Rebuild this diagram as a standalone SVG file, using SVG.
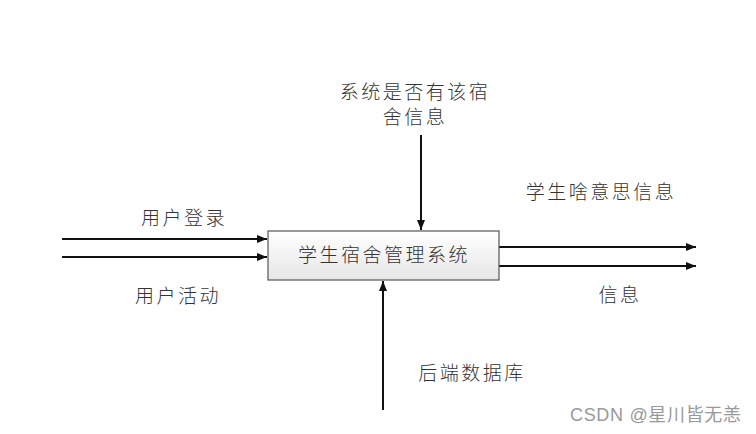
<svg xmlns="http://www.w3.org/2000/svg" width="756" height="434" viewBox="0 0 756 434">
<style>
.t{font-family:"Noto Sans CJK SC","Liberation Sans",sans-serif;font-size:19px;font-weight:300;fill:#333;text-anchor:middle;letter-spacing:2.5px}
.c{stroke:#111;stroke-width:2;fill:none}
.w{font-family:"Liberation Sans","Noto Sans CJK SC",sans-serif;font-size:18px;fill:#999;}
</style>
<defs>
<linearGradient id="g" x1="0" y1="0" x2="0" y2="1"><stop offset="0" stop-color="#ffffff"/><stop offset="1" stop-color="#e6e6e6"/></linearGradient>
<marker id="a" viewBox="0 0 10 10" refX="10" refY="5" markerWidth="5" markerHeight="5" orient="auto" markerUnits="strokeWidth"><path d="M0,1 L10,5 L0,9 z" fill="#111"/></marker>
</defs>
<rect width="756" height="434" fill="#fff"/>
<g id="connectors">
<line class="c" x1="62" y1="239" x2="267" y2="239" marker-end="url(#a)"/>
<line class="c" x1="62" y1="257" x2="267" y2="257" marker-end="url(#a)"/>
<line class="c" x1="499" y1="247" x2="696" y2="247" marker-end="url(#a)"/>
<line class="c" x1="499" y1="266" x2="696" y2="266" marker-end="url(#a)"/>
<line class="c" x1="421" y1="135" x2="421" y2="230" marker-end="url(#a)"/>
<line class="c" x1="383" y1="410" x2="383" y2="281" marker-end="url(#a)"/>
</g>
<g id="system">
<rect x="268" y="231" width="231" height="49" fill="url(#g)" stroke="#555" stroke-width="1.2"/>
<text class="t" x="384" y="262">学生宿舍管理系统</text>
</g>
<g id="labels">
<text class="t" x="415" y="99">系统是否有该宿</text>
<text class="t" x="415" y="124">舍信息</text>
<text class="t" x="184" y="225">用户登录</text>
<text class="t" x="178" y="303">用户活动</text>
<text class="t" x="601" y="199">学生啥意思信息</text>
<text class="t" x="620" y="302">信息</text>
<text class="t" x="472" y="380">后端数据库</text>
</g>
<text class="w" x="570" y="421" textLength="171" lengthAdjust="spacing">CSDN @星川皆无恙</text>
</svg>
